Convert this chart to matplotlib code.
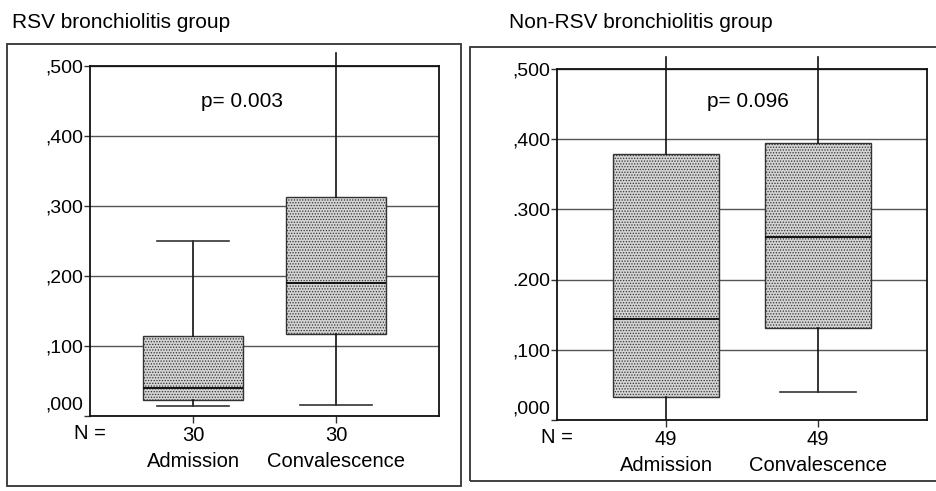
import matplotlib
matplotlib.use("Agg")
import matplotlib.pyplot as plt
from matplotlib.patches import Rectangle
import matplotlib.transforms as mtransforms

plt.rcParams['font.family'] = ['Liberation Sans', 'DejaVu Sans']
plt.rcParams['hatch.color'] = '#8a8a8a'
plt.rcParams['hatch.linewidth'] = 0.6

groups = ['RSV bronchiolitis group', 'Non-RSV bronchiolitis group']
categories = ['Admission', 'Convalescence']
n_counts = [[30, 30], [49, 49]]
p_texts = ['p= 0.003', 'p= 0.096']

# box statistics: admission, convalescence
rsv_whislo = [0.014, 0.016]
rsv_q1 = [0.023, 0.117]
rsv_med = [0.040, 0.190]
rsv_q3 = [0.114, 0.313]
rsv_whishi = [0.250, 0.519]

non_whislo = [0.000, 0.040]
non_q1 = [0.033, 0.131]
non_med = [0.144, 0.261]
non_q3 = [0.379, 0.394]
non_whishi = [0.517, 0.517]

yticks = [0.0, 0.1, 0.2, 0.3, 0.4, 0.5]
rsv_ylabels = [',000', ',100', ',200', ',300', ',400', ',500']
non_ylabels = [',000', ',100', '.200', '.300', ',400', ',500']


def make_stats(lo, q1, med, q3, hi):
    return [dict(whislo=lo[i], q1=q1[i], med=med[i], q3=q3[i], whishi=hi[i], fliers=[])
            for i in range(len(med))]


panels = [
    dict(stats=make_stats(rsv_whislo, rsv_q1, rsv_med, rsv_q3, rsv_whishi),
         ylabels=rsv_ylabels, rect=[0.0962, 0.1527, 0.3729, 0.7128],
         frame=(7, 486, 454, 442), title_x=12, ptext=(1.34, 0.449)),
    dict(stats=make_stats(non_whislo, non_q1, non_med, non_q3, non_whishi),
         ylabels=non_ylabels, rect=[0.5951, 0.1446, 0.3953, 0.7149],
         frame=(470, 481, 470, 434), title_x=509, ptext=(1.54, 0.453)),
]

W, H = 936, 491
fig = plt.figure(figsize=(W / 100, H / 100), dpi=100)

for k, pn in enumerate(panels):
    # outer frame around each panel
    fx, fy, fw, fh = pn['frame']
    fig.patches.append(Rectangle((fx / W, 1 - fy / H), fw / W, fh / H,
                                 transform=fig.transFigure, fill=False,
                                 edgecolor='#333333', lw=1.3))
    fig.text(pn['title_x'] / W, 1 - 22 / H, groups[k], fontsize=15,
             ha='left', va='center')

    ax = fig.add_axes(pn['rect'])
    pos = [1, 2]
    art = ax.bxp(pn['stats'], positions=pos, widths=0.7, capwidths=0.5,
                 patch_artist=True, showfliers=False,
                 boxprops=dict(facecolor='#d4d4d4', edgecolor='#333333',
                               lw=1.0, hatch='......'),
                 medianprops=dict(color='#111111', lw=1.4),
                 whiskerprops=dict(color='#111111', lw=1.2),
                 capprops=dict(color='#333333', lw=1.2))
    ax.set_ylim(0, 0.5)
    ax.set_xlim(0.28, 2.72)

    # whiskers run past the plot area; caps outside it are not drawn
    for w in art['whiskers']:
        w.set_clip_on(False)
    for c in art['caps']:
        y = c.get_ydata()[0]
        if y > 0.5 or y <= 0.0:
            c.set_visible(False)

    ax.set_axisbelow(True)
    ax.yaxis.grid(True, color='#555555', lw=1.0)
    for s in ax.spines.values():
        s.set_color('#111111')
        s.set_linewidth(1.3)

    ax.set_yticks(yticks, pn['ylabels'], fontsize=14)
    ax.tick_params(axis='y', length=4, width=1, pad=1, color='#333333')
    # lift the zero label clear of the bottom spine
    lab0 = ax.get_yticklabels()[0]
    lab0.set_transform(lab0.get_transform() +
                       mtransforms.ScaledTranslation(0, 9.5 / 72, fig.dpi_scale_trans))

    ax.set_xticks(pos, [str(n) for n in n_counts[k]], fontsize=14.5)
    ax.tick_params(axis='x', length=5, width=1, pad=2.5, color='#333333')
    for x, name in zip(pos, categories):
        ax.annotate(name, (x, 0), xycoords=ax.get_xaxis_transform(),
                    xytext=(0, -33), textcoords='offset points',
                    ha='center', va='center', fontsize=14.5)
    ax.annotate('N =', (0, 0), xycoords='axes fraction',
                xytext=(0, -12.5), textcoords='offset points',
                ha='center', va='center', fontsize=14.5)

    ax.text(pn['ptext'][0], pn['ptext'][1], p_texts[k], fontsize=15,
            ha='center', va='center')

fig.savefig('out.png', dpi=100)
